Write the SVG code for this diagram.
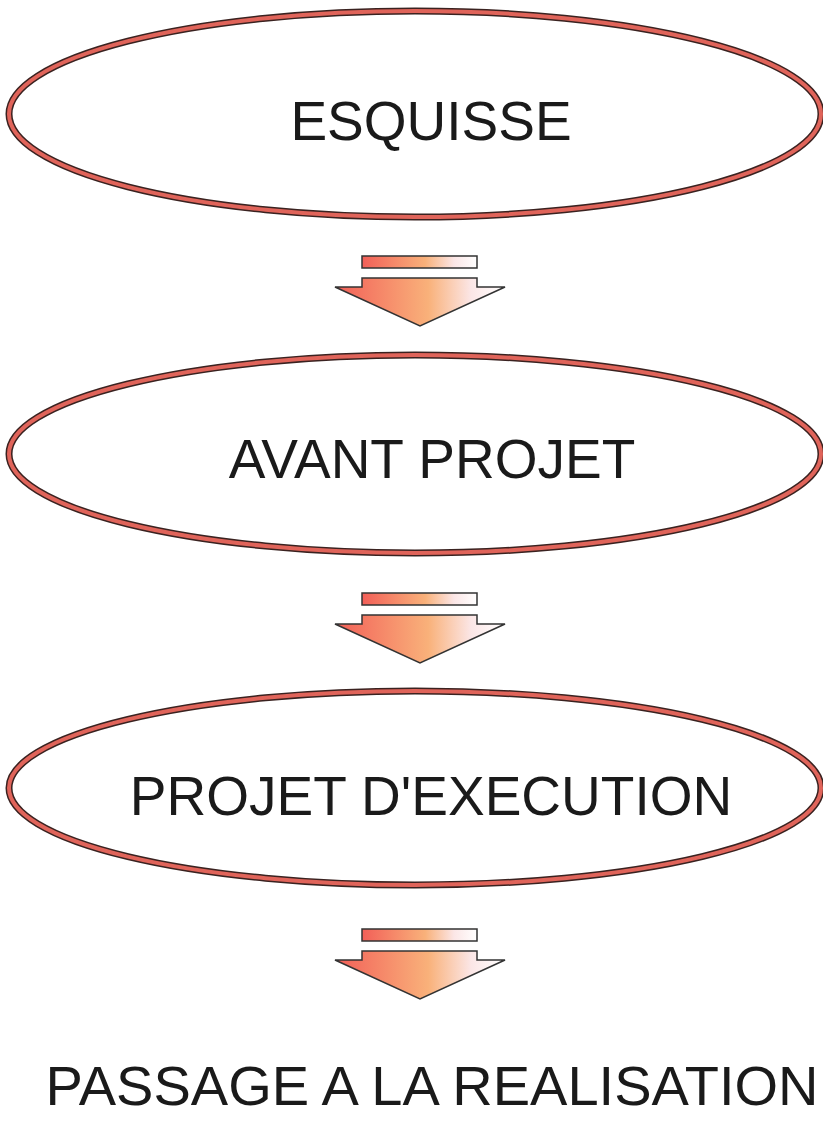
<svg xmlns="http://www.w3.org/2000/svg" width="823" height="1126" viewBox="0 0 823 1126">
<defs>
<linearGradient id="g" x1="0" y1="0" x2="1" y2="0">
<stop offset="0" stop-color="#f25f58"/>
<stop offset="0.55" stop-color="#f9b17a"/>
<stop offset="0.8" stop-color="#fbe6e6"/>
<stop offset="1" stop-color="#ffffff"/>
</linearGradient>
<g id="arrow">
<rect x="362" y="0" width="115" height="12" fill="url(#g)" stroke="#333" stroke-width="1.5"/>
<path d="M362,22 L477,22 L477,31 L505,31 L420,70 L335,31 L362,31 Z" fill="url(#g)" stroke="#333" stroke-width="1.5" stroke-linejoin="miter"/>
</g>
</defs>
<style>
.outer{fill:#fff;stroke:#3a2220;stroke-width:7}
.inner{fill:none;stroke:#e0645a;stroke-width:4}
text{font-family:"Liberation Sans",Arial,sans-serif;font-size:55px;fill:#1a1a1a;text-anchor:middle}
</style>
<rect width="823" height="1126" fill="#fff"/>
<g id="esquisse">
<ellipse class="outer" cx="415" cy="114" rx="406" ry="103"/>
<ellipse class="inner" cx="415" cy="114" rx="406" ry="103"/>
<text x="431" y="140">ESQUISSE</text>
</g>
<g id="avant-projet">
<ellipse class="outer" cx="415" cy="454" rx="406" ry="99"/>
<ellipse class="inner" cx="415" cy="454" rx="406" ry="99"/>
<text x="432" y="478">AVANT PROJET</text>
</g>
<g id="projet-execution">
<ellipse class="outer" cx="415" cy="788" rx="406" ry="97"/>
<ellipse class="inner" cx="415" cy="788" rx="406" ry="97"/>
<text x="431" y="815">PROJET D'EXECUTION</text>
</g>
<g id="realisation">
<text x="432" y="1105" style="font-size:56px">PASSAGE A LA REALISATION</text>
</g>
<g id="connectors">
<use href="#arrow" transform="translate(0,256)"/>
<use href="#arrow" transform="translate(0,593)"/>
<use href="#arrow" transform="translate(0,929)"/>
</g>
</svg>
